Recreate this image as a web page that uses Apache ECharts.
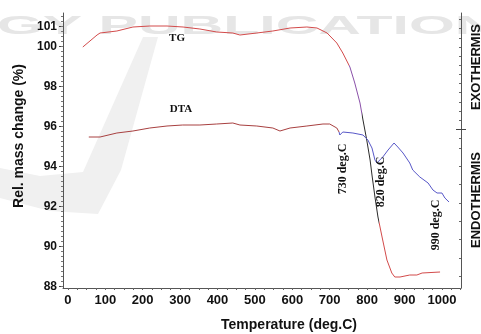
<!DOCTYPE html>
<html>
<head>
<meta charset="utf-8">
<script src="https://cdn.jsdelivr.net/npm/echarts@6/dist/echarts.min.js"></script>
<style>
  html, body { margin: 0; padding: 0; background: #fff; }
  #chart { width: 481px; height: 334px; }
</style>
</head>
<body>
<div id="chart"></div>
<script>
// TG: relative mass change (%) against temperature (deg.C)
const tgTemp = [40, 78, 86, 131, 174, 219, 265, 308, 353, 398, 441, 460, 505, 548, 594, 639, 666, 693, 719, 735, 754, 767, 781, 789, 799, 808, 813, 821, 829, 840, 853, 866, 874, 888, 914, 933, 947, 995]
const tgMass = [99.96, 100.56, 100.66, 100.76, 100.96, 101.01, 101.01, 100.96, 100.86, 100.71, 100.66, 100.56, 100.66, 100.76, 100.91, 100.96, 100.91, 100.66, 100.16, 99.66, 98.96, 98.16, 97.16, 96.31, 95.31, 94.31, 93.56, 92.46, 91.46, 90.46, 89.31, 88.66, 88.46, 88.46, 88.56, 88.56, 88.66, 88.71]

// DTA signal, drawn on the same scale
const dtaTemp = [56, 86, 131, 174, 219, 265, 307, 353, 398, 441, 460, 505, 548, 567, 594, 639, 682, 700, 719, 725, 727, 735, 762, 789, 802, 813, 821, 826, 842, 856, 872, 882, 896, 914, 922, 941, 963, 976, 987, 989, 1000, 1008, 1019]
const dtaVal = [95.46, 95.46, 95.66, 95.76, 95.91, 96.01, 96.06, 96.06, 96.11, 96.16, 96.06, 96.01, 95.91, 95.76, 95.91, 96.01, 96.11, 96.11, 95.91, 95.71, 95.56, 95.71, 95.66, 95.56, 95.31, 94.91, 94.31, 94.16, 94.46, 94.81, 95.16, 94.96, 94.66, 94.16, 93.81, 93.46, 93.16, 92.81, 92.66, 92.71, 92.66, 92.41, 92.21]
// the DTA trace changes colour (red -> blue) at this temperature
const dtaColourSwitch = 722

// tick labels
const xTicks = [0, 100, 200, 300, 400, 500, 600, 700, 800, 900, 1000]
const yTicks = [88, 90, 92, 94, 96, 98, 100, 101]
const rightTicks = [-16, -14, -12, -10, -8, -6, -4, -2, -1, 0, 1, 2, 3, 4, 5, 6, 7, 8, 9, 10, 11, 12]

const xMinor = []
for (let t = 0; t <= 1050; t += 25) xMinor.push(t)
const yMinor = []
for (let v = 88; v <= 101.5; v += 0.25) yMinor.push(v)

const Y_MIN = 87.91
const Y_MAX = 101.66
const R_MIN = -17.3
const R_MAX = 12.7

const font = '"Liberation Sans", Arial, sans-serif'
const serif = '"Liberation Serif", "Times New Roman", serif'

const chart = echarts.init(document.getElementById('chart'))

const txt = (x, y, text, f, rot, fill) => ({
  type: 'text',
  x, y,
  rotation: rot || 0,
  z: 10,
  style: {
    text,
    font: f,
    fill: fill || '#111',
    textAlign: 'center',
    textVerticalAlign: 'middle',
    align: 'center',
    verticalAlign: 'middle'
  }
})

// split the DTA trace into the red and blue part, overlapping by one point
const dtaPairs = dtaTemp.map((t, i) => [t, dtaVal[i]])
const cut = dtaTemp.findIndex(t => t >= dtaColourSwitch)
const dtaRed = dtaPairs.slice(0, cut + 1)
const dtaBlue = dtaPairs.slice(cut)

const rightAxis = (extra) => Object.assign({
  type: 'value',
  position: 'right',
  min: R_MIN,
  max: R_MAX,
  splitLine: { show: false },
  axisLine: { show: false, onZero: false },
  axisLabel: { show: false }
}, extra)

const option = {
  animation: false,
  backgroundColor: '#fff',
  grid: { left: 63, right: 20, top: 13, bottom: 46 },
  xAxis: [{
    type: 'value',
    min: -13,
    max: 1051,
    splitLine: { show: false },
    axisLine: { onZero: false, lineStyle: { color: '#555', width: 1 } },
    axisTick: { customValues: xMinor, length: 2, lineStyle: { color: '#666' } },
    axisLabel: {
      customValues: xTicks,
      formatter: v => String(v),
      margin: 6,
      color: '#111',
      fontSize: 13,
      fontWeight: 'bold',
      fontFamily: font
    }
  }],
  yAxis: [
    {
      type: 'value',
      position: 'left',
      min: Y_MIN,
      max: Y_MAX,
      splitLine: { show: false },
      axisLine: { show: true, onZero: false, lineStyle: { color: '#555', width: 1 } },
      axisTick: { customValues: yTicks, length: 4, lineStyle: { color: '#444' } },
      axisLabel: {
        customValues: yTicks,
        margin: 6,
        color: '#111',
        fontSize: 12,
        fontWeight: 'bold',
        fontFamily: font
      }
    },
    {
      type: 'value',
      position: 'left',
      min: Y_MIN,
      max: Y_MAX,
      splitLine: { show: false },
      axisLine: { show: false, onZero: false },
      axisTick: { customValues: yMinor, length: 2, lineStyle: { color: '#777' } },
      axisLabel: { show: false }
    },
    rightAxis({
      axisLine: { show: true, onZero: false, lineStyle: { color: '#555', width: 1 } },
      axisTick: { customValues: rightTicks, inside: true, length: 2, lineStyle: { color: '#666' } }
    }),
    rightAxis({ axisTick: { customValues: [0], length: 5, lineStyle: { color: '#444' } } }),
    rightAxis({ axisTick: { customValues: [0], inside: true, length: 5, lineStyle: { color: '#444' } } })
  ],
  visualMap: [
    {
      show: false,
      type: 'piecewise',
      seriesIndex: 0,
      dimension: 0,
      pieces: [
        { lt: 752, color: '#d24a4a' },
        { gte: 752, lt: 786, color: '#8a50a8' },
        { gte: 786, lt: 832, color: '#2a2a2a' },
        { gte: 832, color: '#d24a4a' }
      ]
    }
  ],
  series: [
    {
      name: 'TG',
      type: 'line',
      yAxisIndex: 0,
      showSymbol: false,
      symbol: 'none',
      lineStyle: { width: 1 },
      data: tgTemp.map((t, i) => [t, tgMass[i]])
    },
    {
      name: 'DTA',
      type: 'line',
      yAxisIndex: 0,
      showSymbol: false,
      symbol: 'none',
      lineStyle: { width: 1, color: '#a84040' },
      data: dtaRed
    },
    {
      name: 'DTA ',
      type: 'line',
      yAxisIndex: 0,
      showSymbol: false,
      symbol: 'none',
      lineStyle: { width: 1, color: '#5858c8' },
      data: dtaBlue
    }
  ],
  graphic: [
    // faint publisher watermark
    {
      type: 'polygon',
      z: -5,
      shape: { points: [[143, 37], [158, 37], [121, 170], [98, 214], [50, 211], [0, 198], [0, 168], [40, 176], [83, 172]] },
      style: { fill: '#f0f0f0' }
    },
    {
      type: 'text',
      x: -49,
      y: 27,
      scaleX: 2.27,
      z: -5,
      style: {
        text: 'OGY PUBLICATIONS',
        font: 'bold 26px ' + font,
        fill: '#e6e6e6',
        textAlign: 'left',
        textVerticalAlign: 'middle',
        align: 'left',
        verticalAlign: 'middle'
      }
    },
    txt(177, 38, 'TG', 'bold 11px ' + serif),
    txt(181, 109, 'DTA', 'bold 11px ' + serif),
    txt(343, 169, '730 deg.C', 'bold 12px ' + serif, Math.PI / 2),
    txt(381, 182, '820 deg.C', 'bold 12px ' + serif, Math.PI / 2),
    txt(436, 225, '990 deg.C', 'bold 12px ' + serif, Math.PI / 2),
    txt(476, 67, 'EXOTHERMIS', 'bold 13px ' + font, Math.PI / 2),
    txt(476, 200, 'ENDOTHERMIS', 'bold 13px ' + font, Math.PI / 2),
    txt(289, 325, 'Temperature (deg.C)', 'bold 14px ' + font),
    txt(19, 136, 'Rel. mass change (%)', 'bold 14px ' + font, Math.PI / 2)
  ]
}

chart.setOption(option)
</script>
</body>
</html>
